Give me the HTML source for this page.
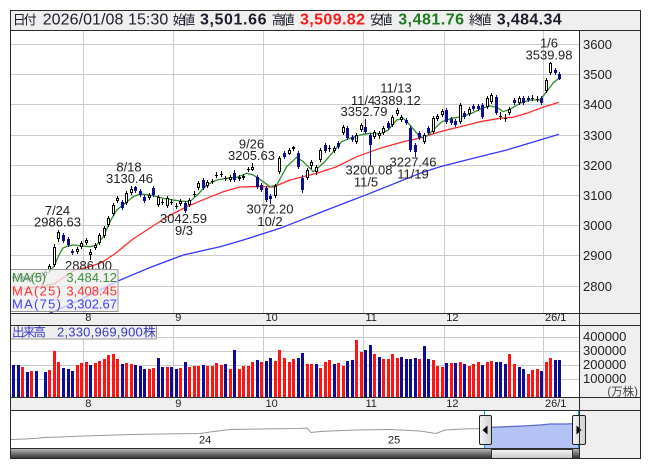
<!DOCTYPE html>
<html><head><meta charset="utf-8"><style>
html,body{margin:0;padding:0;background:#fff;}
svg{display:block;font-family:"Liberation Sans","Noto Sans CJK JP",sans-serif;}
</style></head><body>
<svg width="653" height="470" viewBox="0 0 653 470" xmlns="http://www.w3.org/2000/svg">
<defs>
<linearGradient id="trk" x1="0" y1="0" x2="0" y2="1"><stop offset="0" stop-color="#b8b8b8"/><stop offset="0.5" stop-color="#707070"/><stop offset="1" stop-color="#303030"/></linearGradient>
<linearGradient id="thm" x1="0" y1="0" x2="0" y2="1"><stop offset="0" stop-color="#f8f8f8"/><stop offset="1" stop-color="#c4c4c4"/></linearGradient>
<linearGradient id="hdl" x1="0" y1="0" x2="1" y2="0"><stop offset="0" stop-color="#f4f4f4"/><stop offset="1" stop-color="#d0d0d0"/></linearGradient>
</defs>
<!-- backgrounds -->
<rect x="10" y="10" width="631" height="449" fill="#fff"/>
<rect x="11" y="11" width="629" height="20" fill="#efefef"/>
<rect x="580" y="31" width="60" height="428" fill="#efefef"/>
<rect x="11" y="314" width="569" height="11" fill="#efefef"/>
<rect x="11" y="398" width="569" height="12" fill="#efefef"/>

<!-- price gridlines -->
<g stroke="#cbcbcb" stroke-width="1" shape-rendering="crispEdges">
<path d="M11 44.5H579M11 74.5H579M11 104.5H579M11 135.5H579M11 165.5H579M11 195.5H579M11 225.5H579M11 255.5H579M11 286.5H579"/>
<path d="M83.5 31V313M173.5 31V313M263.5 31V313M363.5 31V313M444.5 31V313M543.5 31V313"/>
<path d="M11 337.5H579M11 351.5H579M11 365.5H579M11 379.5H579"/>
<path d="M83.5 326V397M173.5 326V397M263.5 326V397M363.5 326V397M444.5 326V397M543.5 326V397"/>
</g>

<!-- MA lines -->
<g fill="none" stroke-width="1.3" stroke-linejoin="round">
<polyline stroke="#3535ff" points="50,313 80,300 118,281 150,267.5 183.3,255 220,246.7 243.3,240 280,228.3 326.7,210 370,193.3 420,173.3 440,166.7 473.3,158.3 506.7,150 540,140 559,134.3"/>
<polyline stroke="#ff2a2a" points="13,291 54,284 75,270 87,267.5 102,262.5 116,253 133,239 150,228 166.7,217 186.7,206.7 206.7,198.3 223.3,191.7 240,187 256.7,186.5 273.3,187 290,180 316.7,173.3 336.7,166.7 356.7,156.7 380,148.3 403.3,141.7 420,138 440,131.7 460,126.7 480,121.7 500,118.3 513.3,117.3 526.7,113.3 540,108.3 559,102.3"/>
<polyline stroke="#2e8b2e" points="13,278 22,278 31,277 40,276 49,272 54,266 58.5,256 63,248 68,246 73,245 81.7,246 90,246.7 96.7,245 103.3,236.7 110,221.7 116.7,210 125,203.3 133.3,196.7 140,194 150,195 158,197 166.7,199 180,201 190,201.7 198.3,194 206.7,185 216.7,180 226.7,178.3 236.7,177.3 246.7,173.3 253.3,175 263.3,181.7 270,186.7 276.7,185 286.7,166.7 296.7,157.3 303.3,161.7 313.3,171.7 323.3,163.3 333.3,151.7 341.7,141.7 350,138.3 360,135 370,133.3 380,134 388.3,130 396.7,120 403.3,118.3 410,125 418.3,135 423.3,138.3 428.3,135 435,128.3 441.7,121.7 451.7,118.3 461.7,116.7 471.7,113.3 481.7,108.3 490,106 496.7,107.3 503.3,111.7 510,109.3 520,103.3 530,100 540,100 546.7,91.7 553.3,82.7 559,78.3"/>
</g>

<!-- candles -->
<g shape-rendering="crispEdges">
<path stroke="#000" stroke-width="1" fill="none" d="M18.5 273V280M31.5 274V281M40.5 273V279M45.5 270V278M49.5 264V272M54.5 244V267M58.5 230V242M77.5 247V254M81.5 241V249M86.5 238V245M90.5 249V260M95.5 243V250M99.5 233V245M104.5 226V238M108.5 216V227M113.5 203V216M117.5 196V203M126.5 191V205M131.5 186V195M149.5 193V200M158.5 195V207M162.5 199V205M167.5 196V208M171.5 199V205M176.5 203V209M180.5 199V206M189.5 198V207M194.5 191V197M198.5 181V190M207.5 180V188M212.5 179V184M216.5 172V178M221.5 171V177M225.5 176V181M230.5 175V182M239.5 175V181M243.5 174V180M248.5 167V172M252.5 163V171M275.5 184V198M279.5 156V174M289.5 148V155M293.5 146V151M307.5 168V180M311.5 160V169M316.5 165V175M320.5 148V162M329.5 145V152M334.5 146V153M343.5 125V135M356.5 133V144M361.5 123V132M374.5 130V139M379.5 131V139M383.5 126V135M392.5 115V127M397.5 108V116M401.5 115V122M424.5 133V144M433.5 116V134M437.5 114V121M442.5 109V117M460.5 103V124M469.5 107V116M487.5 96V109M491.5 93V104M500.5 112V120M505.5 114V122M509.5 107V115M519.5 96V105M532.5 95V101M537.5 96V102M546.5 78V93M550.5 62V75"/>
<path stroke="#0c0c8c" stroke-width="1" fill="none" d="M13.5 274V281M22.5 274V281M27.5 275V282M36.5 274V280M63.5 233V243M68.5 237V247M72.5 249V255M122.5 200V210M135.5 186V193M140.5 189V197M144.5 195V203M153.5 186V197M185.5 201V213M203.5 178V190M234.5 170V182M257.5 175V189M261.5 183V192M266.5 186V202M270.5 194V204M284.5 151V159M298.5 151V169M302.5 175V193M325.5 143V153M338.5 141V149M347.5 126V140M352.5 135V142M365.5 119V134M370.5 133V165M388.5 121V130M406.5 118V125M410.5 126V152M415.5 143V157M419.5 131V140M428.5 126V135M446.5 108V124M451.5 117V125M455.5 119V127M464.5 111V119M473.5 104V111M478.5 104V111M482.5 103V119M496.5 95V115M514.5 98V105M523.5 96V105M528.5 96V102M541.5 96V105M555.5 68V75M559.5 72V80"/>
<path fill="#0c0c8c" d="M12 276h3V279h-3ZM21 276h3V279h-3ZM26 277h3V280h-3ZM35 276h3V278h-3ZM62 235h3V241h-3ZM67 239h3V245h-3ZM71 251h3V253h-3ZM121 202h3V208h-3ZM134 187h3V191h-3ZM139 191h3V195h-3ZM143 197h3V201h-3ZM152 188h3V195h-3ZM184 203h3V211h-3ZM202 180h3V188h-3ZM233 173h3V180h-3ZM256 177h3V187h-3ZM260 185h3V190h-3ZM265 188h3V200h-3ZM269 196h3V199h-3ZM283 153h3V157h-3ZM297 153h3V167h-3ZM301 178h3V190h-3ZM324 145h3V151h-3ZM337 143h3V147h-3ZM346 128h3V138h-3ZM351 137h3V140h-3ZM364 127h3V132h-3ZM369 135h3V145h-3ZM387 123h3V128h-3ZM405 120h3V123h-3ZM409 128h3V150h-3ZM414 145h3V152h-3ZM418 133h3V138h-3ZM427 128h3V133h-3ZM445 110h3V122h-3ZM450 119h3V123h-3ZM454 121h3V125h-3ZM463 113h3V117h-3ZM472 106h3V109h-3ZM477 106h3V109h-3ZM481 105h3V117h-3ZM495 97h3V113h-3ZM513 100h3V103h-3ZM522 98h3V103h-3ZM527 98h3V100h-3ZM540 98h3V103h-3ZM554 70h3V73h-3ZM558 74h3V79h-3Z"/>
<path fill="#fff" stroke="#000" stroke-width="1" d="M17.5 275.5h2V277.5h-2ZM30.5 276.5h2V278.5h-2ZM39.5 275.5h2V276.5h-2ZM44.5 272.5h2V275.5h-2ZM48.5 266.5h2V269.5h-2ZM53.5 247.5h2V264.5h-2ZM57.5 232.5h2V238.5h-2ZM76.5 249.5h2V251.5h-2ZM80.5 243.5h2V246.5h-2ZM85.5 240.5h2V242.5h-2ZM89.5 252.5h2V254.5h-2ZM94.5 245.5h2V247.5h-2ZM98.5 235.5h2V242.5h-2ZM103.5 228.5h2V235.5h-2ZM107.5 218.5h2V224.5h-2ZM112.5 205.5h2V213.5h-2ZM116.5 198.5h2V200.5h-2ZM125.5 193.5h2V202.5h-2ZM130.5 189.5h2V192.5h-2ZM148.5 195.5h2V197.5h-2ZM157.5 197.5h2V204.5h-2ZM166.5 198.5h2V205.5h-2ZM179.5 201.5h2V203.5h-2ZM188.5 200.5h2V204.5h-2ZM197.5 183.5h2V187.5h-2ZM206.5 182.5h2V185.5h-2ZM229.5 177.5h2V179.5h-2ZM238.5 177.5h2V178.5h-2ZM242.5 176.5h2V177.5h-2ZM251.5 167.5h2V169.5h-2ZM274.5 186.5h2V195.5h-2ZM278.5 158.5h2V171.5h-2ZM288.5 150.5h2V153.5h-2ZM292.5 147.5h2V148.5h-2ZM306.5 170.5h2V177.5h-2ZM310.5 162.5h2V165.5h-2ZM315.5 167.5h2V171.5h-2ZM319.5 150.5h2V159.5h-2ZM333.5 148.5h2V150.5h-2ZM342.5 127.5h2V132.5h-2ZM355.5 135.5h2V141.5h-2ZM360.5 125.5h2V129.5h-2ZM373.5 132.5h2V136.5h-2ZM378.5 133.5h2V135.5h-2ZM382.5 128.5h2V132.5h-2ZM391.5 117.5h2V124.5h-2ZM396.5 110.5h2V113.5h-2ZM400.5 117.5h2V119.5h-2ZM423.5 135.5h2V141.5h-2ZM432.5 118.5h2V131.5h-2ZM436.5 116.5h2V118.5h-2ZM441.5 111.5h2V114.5h-2ZM459.5 105.5h2V121.5h-2ZM468.5 109.5h2V113.5h-2ZM486.5 98.5h2V106.5h-2ZM490.5 95.5h2V101.5h-2ZM508.5 109.5h2V112.5h-2ZM518.5 98.5h2V102.5h-2ZM545.5 80.5h2V90.5h-2ZM549.5 63.5h2V72.5h-2Z"/>
<path stroke="#000" stroke-width="1" d="M161 202.5h3M170 202.5h3M175 206.5h3M193 194.5h3M211 181.5h3M215 175.5h3M220 174.5h3M224 178.5h3M247 169.5h3M328 148.5h3M499 116.5h3M504 118.5h3M531 98.5h3M536 99.5h3"/>
</g>

<!-- annotations -->
<g font-size="13" fill="#222" text-anchor="middle">
<text x="57.5" y="215">7/24</text><text x="57.5" y="226.5">2986.63</text>
<text x="129" y="171.5">8/18</text><text x="129.5" y="183">3130.46</text>
<text x="183.5" y="223">3042.59</text><text x="184" y="235">9/3</text>
<text x="88.5" y="270">2886.00</text>
<text x="251.5" y="148.5">9/26</text><text x="251.5" y="160">3205.63</text>
<text x="270" y="213.5">3072.20</text><text x="270" y="226">10/2</text>
<text x="363" y="105">11/4</text><text x="364" y="116">3352.79</text>
<text x="396" y="92.5">11/13</text><text x="397.3" y="105">3389.12</text>
<text x="369" y="174.3">3200.08</text><text x="366" y="186.5">11/5</text>
<text x="413" y="166.5">3227.46</text><text x="413" y="178.5">11/19</text>
<text x="549" y="47.3">1/6</text><text x="549" y="59.3">3539.98</text>
</g>

<!-- MA legend -->
<rect x="10.5" y="269.5" width="107.5" height="42" fill="rgba(238,238,238,0.78)" stroke="#9a9a9a"/>
<g font-size="13">
<text x="12" y="282" fill="#3d8f3d" textLength="34">MA(5)</text>
<text x="117" y="282" fill="#3d8f3d" text-anchor="end">3,484.12</text>
<text x="12" y="295.5" fill="#ff3030" textLength="49">MA(25)</text>
<text x="117" y="295.5" fill="#ff3030" text-anchor="end">3,408.45</text>
<text x="12" y="308.5" fill="#4040ff" textLength="49">MA(75)</text>
<text x="117" y="308.5" fill="#4040ff" text-anchor="end">3,302.67</text>
</g>

<!-- price axis labels -->
<g font-size="13" fill="#222">
<text x="583" y="49">3600</text><text x="583" y="79">3500</text><text x="583" y="109">3400</text>
<text x="583" y="140">3300</text><text x="583" y="170">3200</text><text x="583" y="200">3100</text>
<text x="583" y="230">3000</text><text x="583" y="260">2900</text><text x="583" y="291">2800</text>
</g>

<!-- date bands labels -->
<g font-size="11" fill="#222">
<text x="85.3" y="321">8</text><text x="175.3" y="321">9</text><text x="265.5" y="321">10</text>
<text x="365.5" y="321">11</text><text x="446.3" y="321">12</text><text x="545" y="321">26/1</text>
<text x="85.3" y="407">8</text><text x="175.3" y="407">9</text><text x="265.5" y="407">10</text>
<text x="365.5" y="407">11</text><text x="446.3" y="407">12</text><text x="545" y="407">26/1</text>
</g>

<!-- volume bars -->
<g shape-rendering="crispEdges">
<path fill="#ff1414" d="M21 367h3V397h-3ZM30 371h3V397h-3ZM48 370h3V397h-3ZM53 351h3V397h-3ZM57 362h3V397h-3ZM76 365h3V397h-3ZM80 363h3V397h-3ZM85 362h3V397h-3ZM94 363h3V397h-3ZM98 361h3V397h-3ZM103 359h3V397h-3ZM107 355h3V397h-3ZM112 354h3V397h-3ZM116 359h3V397h-3ZM125 363h3V397h-3ZM130 364h3V397h-3ZM148 369h3V397h-3ZM152 368h3V397h-3ZM166 367h3V397h-3ZM179 368h3V397h-3ZM188 367h3V397h-3ZM193 366h3V397h-3ZM197 366h3V397h-3ZM206 366h3V397h-3ZM211 366h3V397h-3ZM215 363h3V397h-3ZM220 365h3V397h-3ZM229 369h3V397h-3ZM238 369h3V397h-3ZM242 366h3V397h-3ZM247 366h3V397h-3ZM251 362h3V397h-3ZM260 362h3V397h-3ZM274 361h3V397h-3ZM278 350h3V397h-3ZM283 358h3V397h-3ZM288 362h3V397h-3ZM292 359h3V397h-3ZM306 364h3V397h-3ZM310 364h3V397h-3ZM319 368h3V397h-3ZM324 362h3V397h-3ZM328 360h3V397h-3ZM337 363h3V397h-3ZM342 366h3V397h-3ZM355 340h3V397h-3ZM360 352h3V397h-3ZM373 354h3V397h-3ZM382 359h3V397h-3ZM387 359h3V397h-3ZM391 354h3V397h-3ZM396 358h3V397h-3ZM418 359h3V397h-3ZM432 360h3V397h-3ZM436 366h3V397h-3ZM441 367h3V397h-3ZM450 363h3V397h-3ZM459 362h3V397h-3ZM468 366h3V397h-3ZM472 364h3V397h-3ZM477 362h3V397h-3ZM486 362h3V397h-3ZM490 361h3V397h-3ZM508 354h3V397h-3ZM513 364h3V397h-3ZM527 374h3V397h-3ZM531 370h3V397h-3ZM536 369h3V397h-3ZM545 362h3V397h-3ZM549 358h3V397h-3Z"/>
<path fill="#0c0c96" d="M12 365h3V397h-3ZM17 365h3V397h-3ZM26 372h3V397h-3ZM35 371h3V397h-3ZM44 372h3V397h-3ZM62 368h3V397h-3ZM67 369h3V397h-3ZM71 371h3V397h-3ZM89 365h3V397h-3ZM121 364h3V397h-3ZM134 365h3V397h-3ZM139 366h3V397h-3ZM143 369h3V397h-3ZM157 358h3V397h-3ZM161 367h3V397h-3ZM170 367h3V397h-3ZM175 369h3V397h-3ZM184 362h3V397h-3ZM202 365h3V397h-3ZM224 364h3V397h-3ZM233 350h3V397h-3ZM256 360h3V397h-3ZM265 361h3V397h-3ZM269 358h3V397h-3ZM297 358h3V397h-3ZM301 353h3V397h-3ZM315 364h3V397h-3ZM333 364h3V397h-3ZM346 361h3V397h-3ZM351 360h3V397h-3ZM364 350h3V397h-3ZM369 345h3V397h-3ZM378 357h3V397h-3ZM400 357h3V397h-3ZM405 359h3V397h-3ZM409 359h3V397h-3ZM414 358h3V397h-3ZM423 346h3V397h-3ZM427 359h3V397h-3ZM445 363h3V397h-3ZM454 363h3V397h-3ZM463 364h3V397h-3ZM481 365h3V397h-3ZM495 362h3V397h-3ZM499 362h3V397h-3ZM504 364h3V397h-3ZM518 367h3V397h-3ZM522 369h3V397h-3ZM540 371h3V397h-3ZM554 360h3V397h-3ZM558 360h3V397h-3Z"/>
</g>

<!-- volume legend -->
<rect x="10.5" y="325.5" width="146" height="13.5" fill="#eeeeee" stroke="#9a9a9a"/>
<text x="12" y="336.5" font-size="12.5" fill="#3a3ac0" textLength="34">出来高</text>
<text x="57" y="336.5" font-size="13" fill="#3a3ac0" textLength="99">2,330,969,900株</text>

<!-- volume axis labels -->
<g font-size="13" fill="#222">
<text x="583" y="341">400000</text><text x="583" y="355">300000</text>
<text x="583" y="369">200000</text><text x="583" y="383">100000</text>
</g>
<text x="638" y="395.5" font-size="11.5" fill="#444" text-anchor="end">(万株)</text>

<!-- navigator -->
<polygon fill="#b4c3f5" points="484,448 484,427.5 500,427 523,426 540,425 550,424 565,424 579,423.5 579,448"/>
<polyline fill="none" stroke="#999" stroke-width="1" points="11,439.5 25,439 40,438 43,437.5 60,437 83,436 100,435.5 133,434.5 160,434 200,433.5 210,432 230,429.5 260,429 300,428.5 307,428 311,432.5 320,431.5 330,431 356,430 390,429.5 420,431 436,433.5 445,430 463,429 484,428.5"/>
<polyline fill="none" stroke="#5a68d0" stroke-width="1.2" points="484,427.5 500,427 523,426 540,425 550,424 565,424 579,423.5"/>
<g font-size="11" fill="#222"><text x="199" y="443.5">24</text><text x="388" y="443.5">25</text></g>
<path d="M484.5 410V459M578.5 410V459" stroke="#00a8e8" stroke-width="1"/>
<rect x="479.5" y="415.5" width="12" height="29" rx="1.5" fill="url(#hdl)" stroke="#222"/>
<polygon points="482.5,430 487.5,425.5 487.5,434.5" fill="#000"/>
<rect x="572.5" y="415.5" width="13" height="29" rx="1.5" fill="url(#hdl)" stroke="#222"/>
<polygon points="581.5,430 576.5,425.5 576.5,434.5" fill="#000"/>

<!-- scrollbar -->
<rect x="11" y="449" width="480" height="9.5" fill="url(#trk)"/>
<rect x="572" y="449" width="7" height="9.5" fill="url(#trk)"/>
<rect x="491.5" y="449.5" width="81" height="9" fill="url(#thm)" stroke="#333"/>

<!-- borders -->
<g stroke="#2a2a2a" stroke-width="1" fill="none" shape-rendering="crispEdges">
<rect x="10.5" y="10.5" width="630" height="448"/>
<path d="M10 30.5H641M10 313.5H641M10 325.5H641M10 397.5H641M10 410.5H641M10 448.5H580M579.5 30V459"/>
</g>

<!-- header -->
<g fill="#1c1c2c">
<text x="12.7" y="24.5" font-size="13" textLength="24">日付</text>
<text x="42.7" y="24.3" font-size="16" textLength="125.6">2026/01/08 15:30</text>
<text x="172.7" y="24.5" font-size="13" textLength="22.5">始値</text>
<text x="200" y="24.3" font-size="16" font-weight="bold" textLength="66.5">3,501.66</text>
<text x="271.7" y="24.5" font-size="13" textLength="23">高値</text>
<text x="300" y="24.3" font-size="16" font-weight="bold" fill="#ff1a1a" textLength="65">3,509.82</text>
<text x="370" y="24.5" font-size="13" textLength="22.7">安値</text>
<text x="398.3" y="24.3" font-size="16" font-weight="bold" fill="#1f7a1f" textLength="65.7">3,481.76</text>
<text x="469" y="24.5" font-size="13" textLength="22.7">終値</text>
<text x="496.7" y="24.3" font-size="16" font-weight="bold" textLength="65">3,484.34</text>
</g>
</svg>
</body></html>
